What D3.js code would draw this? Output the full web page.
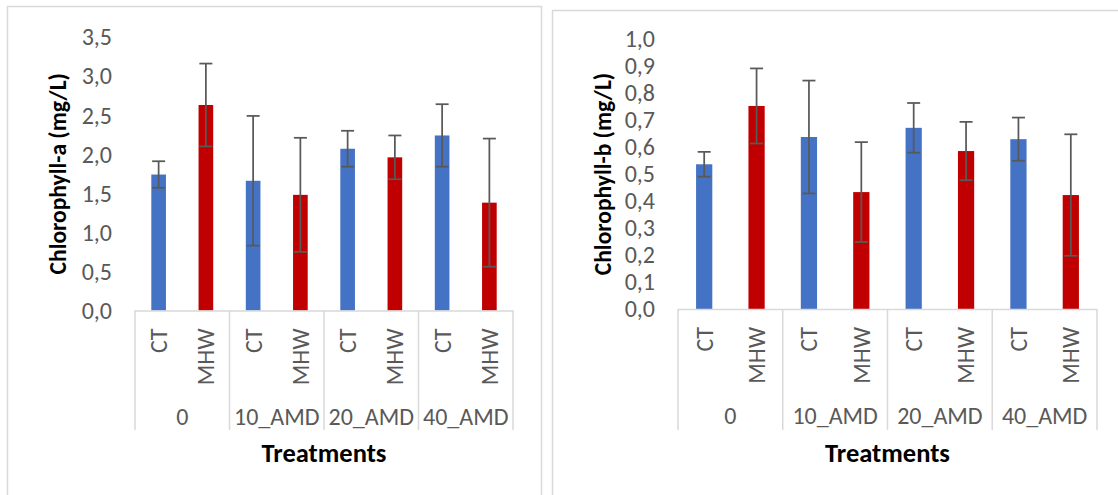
<!DOCTYPE html>
<html>
<head>
<meta charset="utf-8">
<script src="https://cdn.jsdelivr.net/npm/d3@7"></script>
<style>
	body { margin: 0; background: #ffffff; }
	svg { display: block; font-family: Carlito, Calibri, Lato, sans-serif; }
</style>
</head>
<body>
<script>
// chart data
var groups = ["0", "10_AMD", "20_AMD", "40_AMD"];
var treatments = ["CT", "MHW"];

var chlA = [1.74, 2.63, 1.66, 1.48, 2.07, 1.96, 2.24, 1.38];
var chlAErr = [0.17, 0.53, 0.83, 0.73, 0.23, 0.28, 0.40, 0.82];
var chlATicks = [0, 0.5, 1.0, 1.5, 2.0, 2.5, 3.0, 3.5];

var chlB = [0.536, 0.752, 0.637, 0.433, 0.671, 0.585, 0.629, 0.422];
var chlBErr = [0.046, 0.139, 0.209, 0.185, 0.092, 0.108, 0.080, 0.225];
var chlBTicks = [0, 0.1, 0.2, 0.3, 0.4, 0.5, 0.6, 0.7, 0.8, 0.9, 1.0];

var colors = { CT: "#4472C4", MHW: "#C00000" };

// comma as decimal separator
var fmt = d3.formatLocale({ decimal: ",", thousands: ".", grouping: [3], currency: ["", ""] }).format(".1f");

var w = 1118, h = 495;

var svg = d3.select("body")
	.append("svg")
	.attr("width", w)
	.attr("height", h);

function drawChart(cfg){
	// one row per bar: group + treatment
	var rows = [];
	groups.forEach(function(g, gi){
		treatments.forEach(function(t, ti){
			var i = gi * treatments.length + ti;
			rows.push({ key: g + "|" + t, group: g, treatment: t, value: cfg.values[i], err: cfg.errors[i] });
		});
	});

	var g = svg.append("g").attr("class", "chart");

	// chart frame
	g.append("rect")
		.attr("x", cfg.frame[0] + 0.5)
		.attr("y", cfg.frame[1] + 0.5)
		.attr("width", cfg.frame[2])
		.attr("height", cfg.frame[3])
		.style("fill", "none")
		.style("stroke", "#D9D9D9")
		.style("stroke-width", 1.5);

	var x = d3.scaleBand()
		.domain(rows.map(function(d){ return d.key; }))
		.range([cfg.left, cfg.right])
		.paddingInner(0.69)
		.paddingOuter(0.345);

	var xGroup = d3.scaleBand()
		.domain(groups)
		.range([cfg.left, cfg.right]);

	var y = d3.scaleLinear()
		.domain([0, cfg.ticks[cfg.ticks.length - 1]])
		.range([cfg.bottom, cfg.top]);

	// y tick labels
	g.selectAll(".ytick")
		.data(cfg.ticks)
		.enter()
		.append("text")
		.attr("class", "ytick")
		.attr("x", cfg.left - 23)
		.attr("y", function(d){ return y(d); })
		.attr("dy", "0.35em")
		.attr("text-anchor", "end")
		.style("font-size", "24px")
		.style("fill", "#595959")
		.text(fmt);

	// bars
	g.selectAll(".bar")
		.data(rows)
		.enter()
		.append("rect")
		.attr("class", "bar")
		.attr("x", function(d){ return x(d.key); })
		.attr("width", x.bandwidth())
		.attr("y", function(d){ return y(d.value); })
		.attr("height", function(d){ return y(0) - y(d.value); })
		.style("fill", function(d){ return colors[d.treatment]; });

	// error bars
	var capHalf = 6.5;
	var eb = g.selectAll(".errbar")
		.data(rows)
		.enter()
		.append("g")
		.attr("class", "errbar")
		.style("stroke", "#595959")
		.style("stroke-width", 1.75);

	eb.append("line")
		.attr("x1", function(d){ return x(d.key) + x.bandwidth() / 2; })
		.attr("x2", function(d){ return x(d.key) + x.bandwidth() / 2; })
		.attr("y1", function(d){ return y(d.value - d.err); })
		.attr("y2", function(d){ return y(d.value + d.err); });

	eb.selectAll(".cap")
		.data(function(d){ return [d.value - d.err, d.value + d.err].map(function(v){ return { key: d.key, v: v }; }); })
		.enter()
		.append("line")
		.attr("class", "cap")
		.attr("x1", function(d){ return x(d.key) + x.bandwidth() / 2 - capHalf; })
		.attr("x2", function(d){ return x(d.key) + x.bandwidth() / 2 + capHalf; })
		.attr("y1", function(d){ return y(d.v); })
		.attr("y2", function(d){ return y(d.v); });

	// category axis line
	g.append("line")
		.attr("x1", cfg.left)
		.attr("x2", cfg.right)
		.attr("y1", y(0) + 0.5)
		.attr("y2", y(0) + 0.5)
		.style("stroke", "#D9D9D9")
		.style("stroke-width", 1.5);

	// group separators
	g.selectAll(".sep")
		.data(groups.map(function(d){ return xGroup(d); }).concat([cfg.right]))
		.enter()
		.append("line")
		.attr("class", "sep")
		.attr("x1", function(d){ return d; })
		.attr("x2", function(d){ return d; })
		.attr("y1", y(0))
		.attr("y2", cfg.sepBottom)
		.style("stroke", "#D9D9D9")
		.style("stroke-width", 1.5);

	// inner (treatment) labels, rotated
	g.selectAll(".xlab")
		.data(rows)
		.enter()
		.append("text")
		.attr("class", "xlab")
		.attr("transform", function(d){
			return "translate(" + (x(d.key) + x.bandwidth() / 2) + "," + (y(0) + 18) + ") rotate(-90)";
		})
		.attr("dy", "0.35em")
		.attr("text-anchor", "end")
		.style("font-size", "24px")
		.style("fill", "#595959")
		.text(function(d){ return d.treatment; });

	// outer (group) labels
	g.selectAll(".glab")
		.data(groups)
		.enter()
		.append("text")
		.attr("class", "glab")
		.attr("x", function(d){ return xGroup(d) + xGroup.bandwidth() / 2; })
		.attr("y", cfg.groupLabelY)
		.attr("dy", "0.35em")
		.attr("text-anchor", "middle")
		.style("font-size", "24px")
		.style("fill", "#595959")
		.text(function(d){ return d; });

	// axis titles
	g.append("text")
		.attr("x", (cfg.left + cfg.right) / 2)
		.attr("y", cfg.xTitleY)
		.attr("dy", "0.35em")
		.attr("text-anchor", "middle")
		.style("font-size", "26.5px")
		.style("font-weight", "bold")
		.style("fill", "#000000")
		.text("Treatments");

	g.append("text")
		.attr("transform", "translate(" + cfg.yTitleX + "," + ((cfg.top + cfg.bottom) / 2) + ") rotate(-90)")
		.attr("dy", "0.35em")
		.attr("text-anchor", "middle")
		.style("font-size", "23.5px")
		.style("font-weight", "bold")
		.style("fill", "#000000")
		.text(cfg.title);
}

drawChart({
	values: chlA, errors: chlAErr, ticks: chlATicks,
	title: "Chlorophyll-a (mg/L)",
	frame: [7, 6, 534, 520],
	left: 135, right: 513, top: 37, bottom: 310.5,
	sepBottom: 430, groupLabelY: 417, xTitleY: 453, yTitleX: 58
});

drawChart({
	values: chlB, errors: chlBErr, ticks: chlBTicks,
	title: "Chlorophyll-b (mg/L)",
	frame: [552, 10, 600, 520],
	left: 678, right: 1097, top: 39, bottom: 309,
	sepBottom: 430, groupLabelY: 416, xTitleY: 453, yTitleX: 603
});
</script>
</body>
</html>
